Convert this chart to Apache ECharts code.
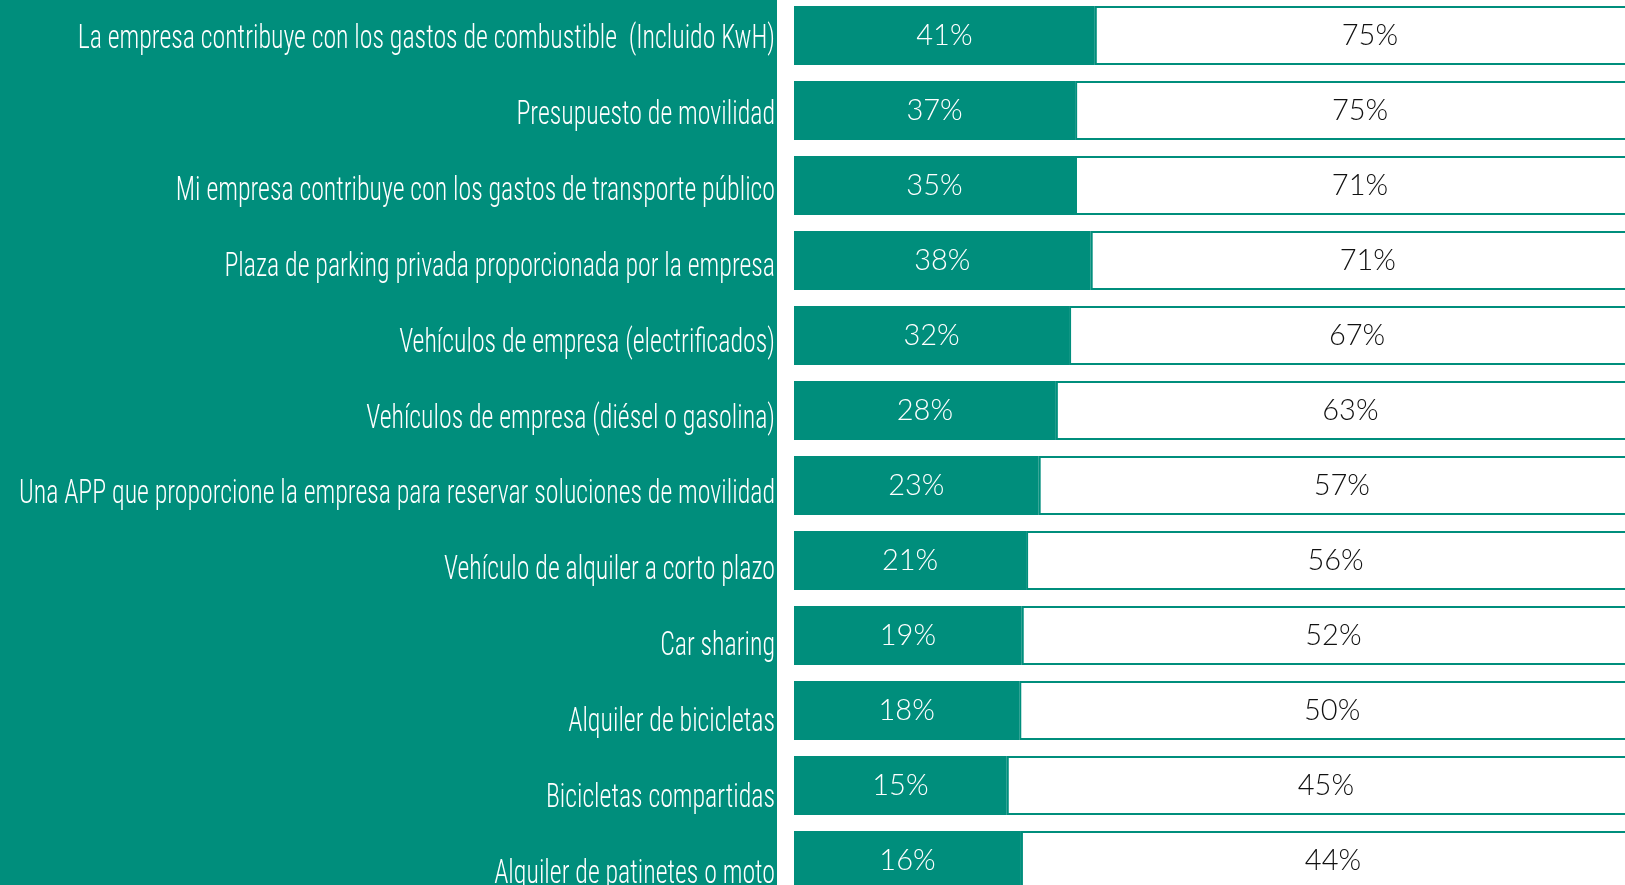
<!DOCTYPE html>
<html>
<head>
<meta charset="utf-8">
<style>
  html, body { margin: 0; padding: 0; background: #ffffff; }
  #chart { width: 1625px; height: 885px; }
</style>
<script src="https://cdn.jsdelivr.net/npm/echarts@6/dist/echarts.min.js"></script>
</head>
<body>
<div id="chart"></div>
<script>
// datos
const categories = [
  'La empresa contribuye con los gastos de combustible  (Incluido KwH)',
  'Presupuesto de movilidad',
  'Mi empresa contribuye con los gastos de transporte público',
  'Plaza de parking privada proporcionada por la empresa',
  'Vehículos de empresa (electrificados)',
  'Vehículos de empresa (diésel o gasolina)',
  'Una APP que proporcione la empresa para reservar soluciones de movilidad',
  'Vehículo de alquiler a corto plazo',
  'Car sharing',
  'Alquiler de bicicletas',
  'Bicicletas compartidas',
  'Alquiler de patinetes o moto'
];
const offeredValues = [41, 37, 35, 38, 32, 28, 23, 21, 19, 18, 15, 16];
const wantedValues = [75, 75, 71, 71, 67, 63, 57, 56, 52, 50, 45, 44];

const TEAL = '#008e7c';
const LABEL_FONT = '300 34px "Roboto Condensed", "DejaVu Sans Condensed", sans-serif';
const LABEL_RIGHT = 775;

// cada fila se reparte al 100% entre las dos cifras
const offeredShare = offeredValues.map((v, i) => v / (v + wantedValues[i]) * 100);
const wantedShare = wantedValues.map((v, i) => v / (v + offeredValues[i]) * 100);

// la tipografía original es muy estrecha: se comprime en horizontal
const cv = document.createElement('canvas').getContext('2d');
cv.font = LABEL_FONT;
const longest = Math.max(...categories.map(c => cv.measureText(c).width));
const squeeze = 756 / longest;

const pctLabel = {
  show: true, position: 'inside',
  fontFamily: 'Lato', fontWeight: 300, fontSize: 29
};

const chart = echarts.init(document.getElementById('chart'));
chart.setOption({
  backgroundColor: '#ffffff',
  animation: false,
  graphic: [
    { type: 'rect', id: 'panel', z: -10, shape: { x: 0, y: 0, width: 777, height: 885 }, style: { fill: TEAL } }
  ],
  grid: [
    { left: 794, right: -20, top: -2, bottom: -13, outerBoundsMode: 'none', containLabel: false },
    // rejilla sólo para situar las etiquetas (su paso es algo mayor que el de las barras)
    { left: LABEL_RIGHT, width: 10, top: 2, height: 910, outerBoundsMode: 'none', containLabel: false }
  ],
  xAxis: [
    { type: 'value', min: 0, max: 100, show: false, gridIndex: 0 },
    { type: 'value', show: false, gridIndex: 1 }
  ],
  yAxis: [
    { type: 'category', data: categories, inverse: true, show: false, gridIndex: 0 },
    { type: 'category', data: categories, inverse: true, show: false, gridIndex: 1 }
  ],
  series: [
    {
      type: 'bar', stack: 'fila', data: offeredShare, barWidth: 59,
      itemStyle: { color: TEAL },
      label: Object.assign({}, pctLabel, {
        color: '#ffffff',
        formatter: p => offeredValues[p.dataIndex] + '%'
      })
    },
    {
      type: 'bar', stack: 'fila', data: wantedShare, barWidth: 59,
      itemStyle: { color: '#ffffff', borderColor: TEAL, borderWidth: 2 },
      label: Object.assign({}, pctLabel, {
        color: '#111111',
        formatter: p => wantedValues[p.dataIndex] + '%'
      })
    }
  ]
});

// etiquetas de categoría colocadas con la escala del eje de la segunda rejilla
const labelEls = categories.map((c, i) => ({
  type: 'text',
  id: 'cat' + i,
  z: 5,
  x: LABEL_RIGHT,
  y: chart.convertToPixel({ yAxisIndex: 1 }, i),
  scaleX: squeeze,
  style: {
    text: c, fill: '#ffffff',
    font: LABEL_FONT,
    textAlign: 'right', textVerticalAlign: 'middle'
  }
}));
chart.setOption({ graphic: labelEls });
</script>
</body>
</html>
